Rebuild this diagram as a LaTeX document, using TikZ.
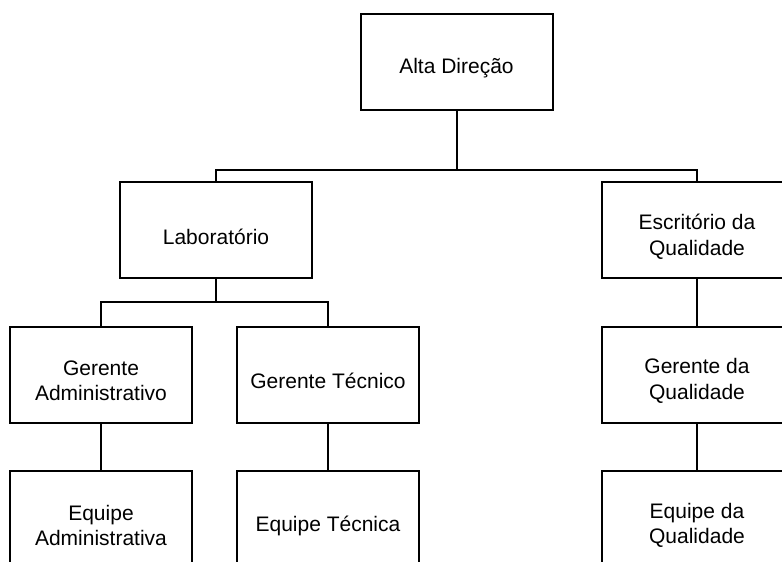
\documentclass[tikz,border=0pt]{standalone}
\usepackage{fontspec}
\setmainfont{Liberation Sans}
\begin{document}
\begin{tikzpicture}[x=1pt,y=-1pt,
  orgbox/.style={draw=black, line width=2pt, rectangle, minimum height=96pt, inner sep=0pt,
    label={[boxtext]center:#1}},
  boxtext/.style={align=center, font=\fontsize{21}{25.5}\selectfont, inner sep=0pt,
    text=black, yshift=-6.5pt},
  wa/.style={orgbox=#1, minimum width=192pt},
  wb/.style={orgbox=#1, minimum width=182pt},
  wc/.style={orgbox=#1, minimum width=190pt},
  link/.style={draw=black, line width=2pt}]
\useasboundingbox (0,0) rectangle (782,562);
\clip (0,0) rectangle (782,562);
\node[wa={Alta Direção}] (alta) at (456.5,62) {};
\node[wa={Laboratório}] (lab) at (216,230) {};
\node[wc={Escritório da\\Qualidade}] (esc) at (697,230) {};
\node[wb={Gerente\\Administrativo}] (ga) at (101,374.5) {};
\node[wb={Gerente Técnico}] (gt) at (328,374.5) {};
\node[wc={Gerente da\\Qualidade}] (gq) at (697,374.5) {};
\node[wb={Equipe\\Administrativa}] (ea) at (101,519) {};
\node[wb={Equipe Técnica}] (et) at (328,519) {};
\node[wc={Equipe da\\Qualidade}] (eq) at (697,519) {};
\coordinate (j1) at (456.5,170);
\coordinate (j2) at (216,302);
\draw[link] (alta.south) -- (j1);
\draw[link] (j1) -| (lab.north);
\draw[link] (j1) -| (esc.north);
\draw[link] (lab.south) -- (j2);
\draw[link] (j2) -| (ga.north);
\draw[link] (j2) -| (gt.north);
\draw[link] (esc.south) -- (gq.north);
\draw[link] (ga.south) -- (ea.north);
\draw[link] (gt.south) -- (et.north);
\draw[link] (gq.south) -- (eq.north);
\end{tikzpicture}
\end{document}
